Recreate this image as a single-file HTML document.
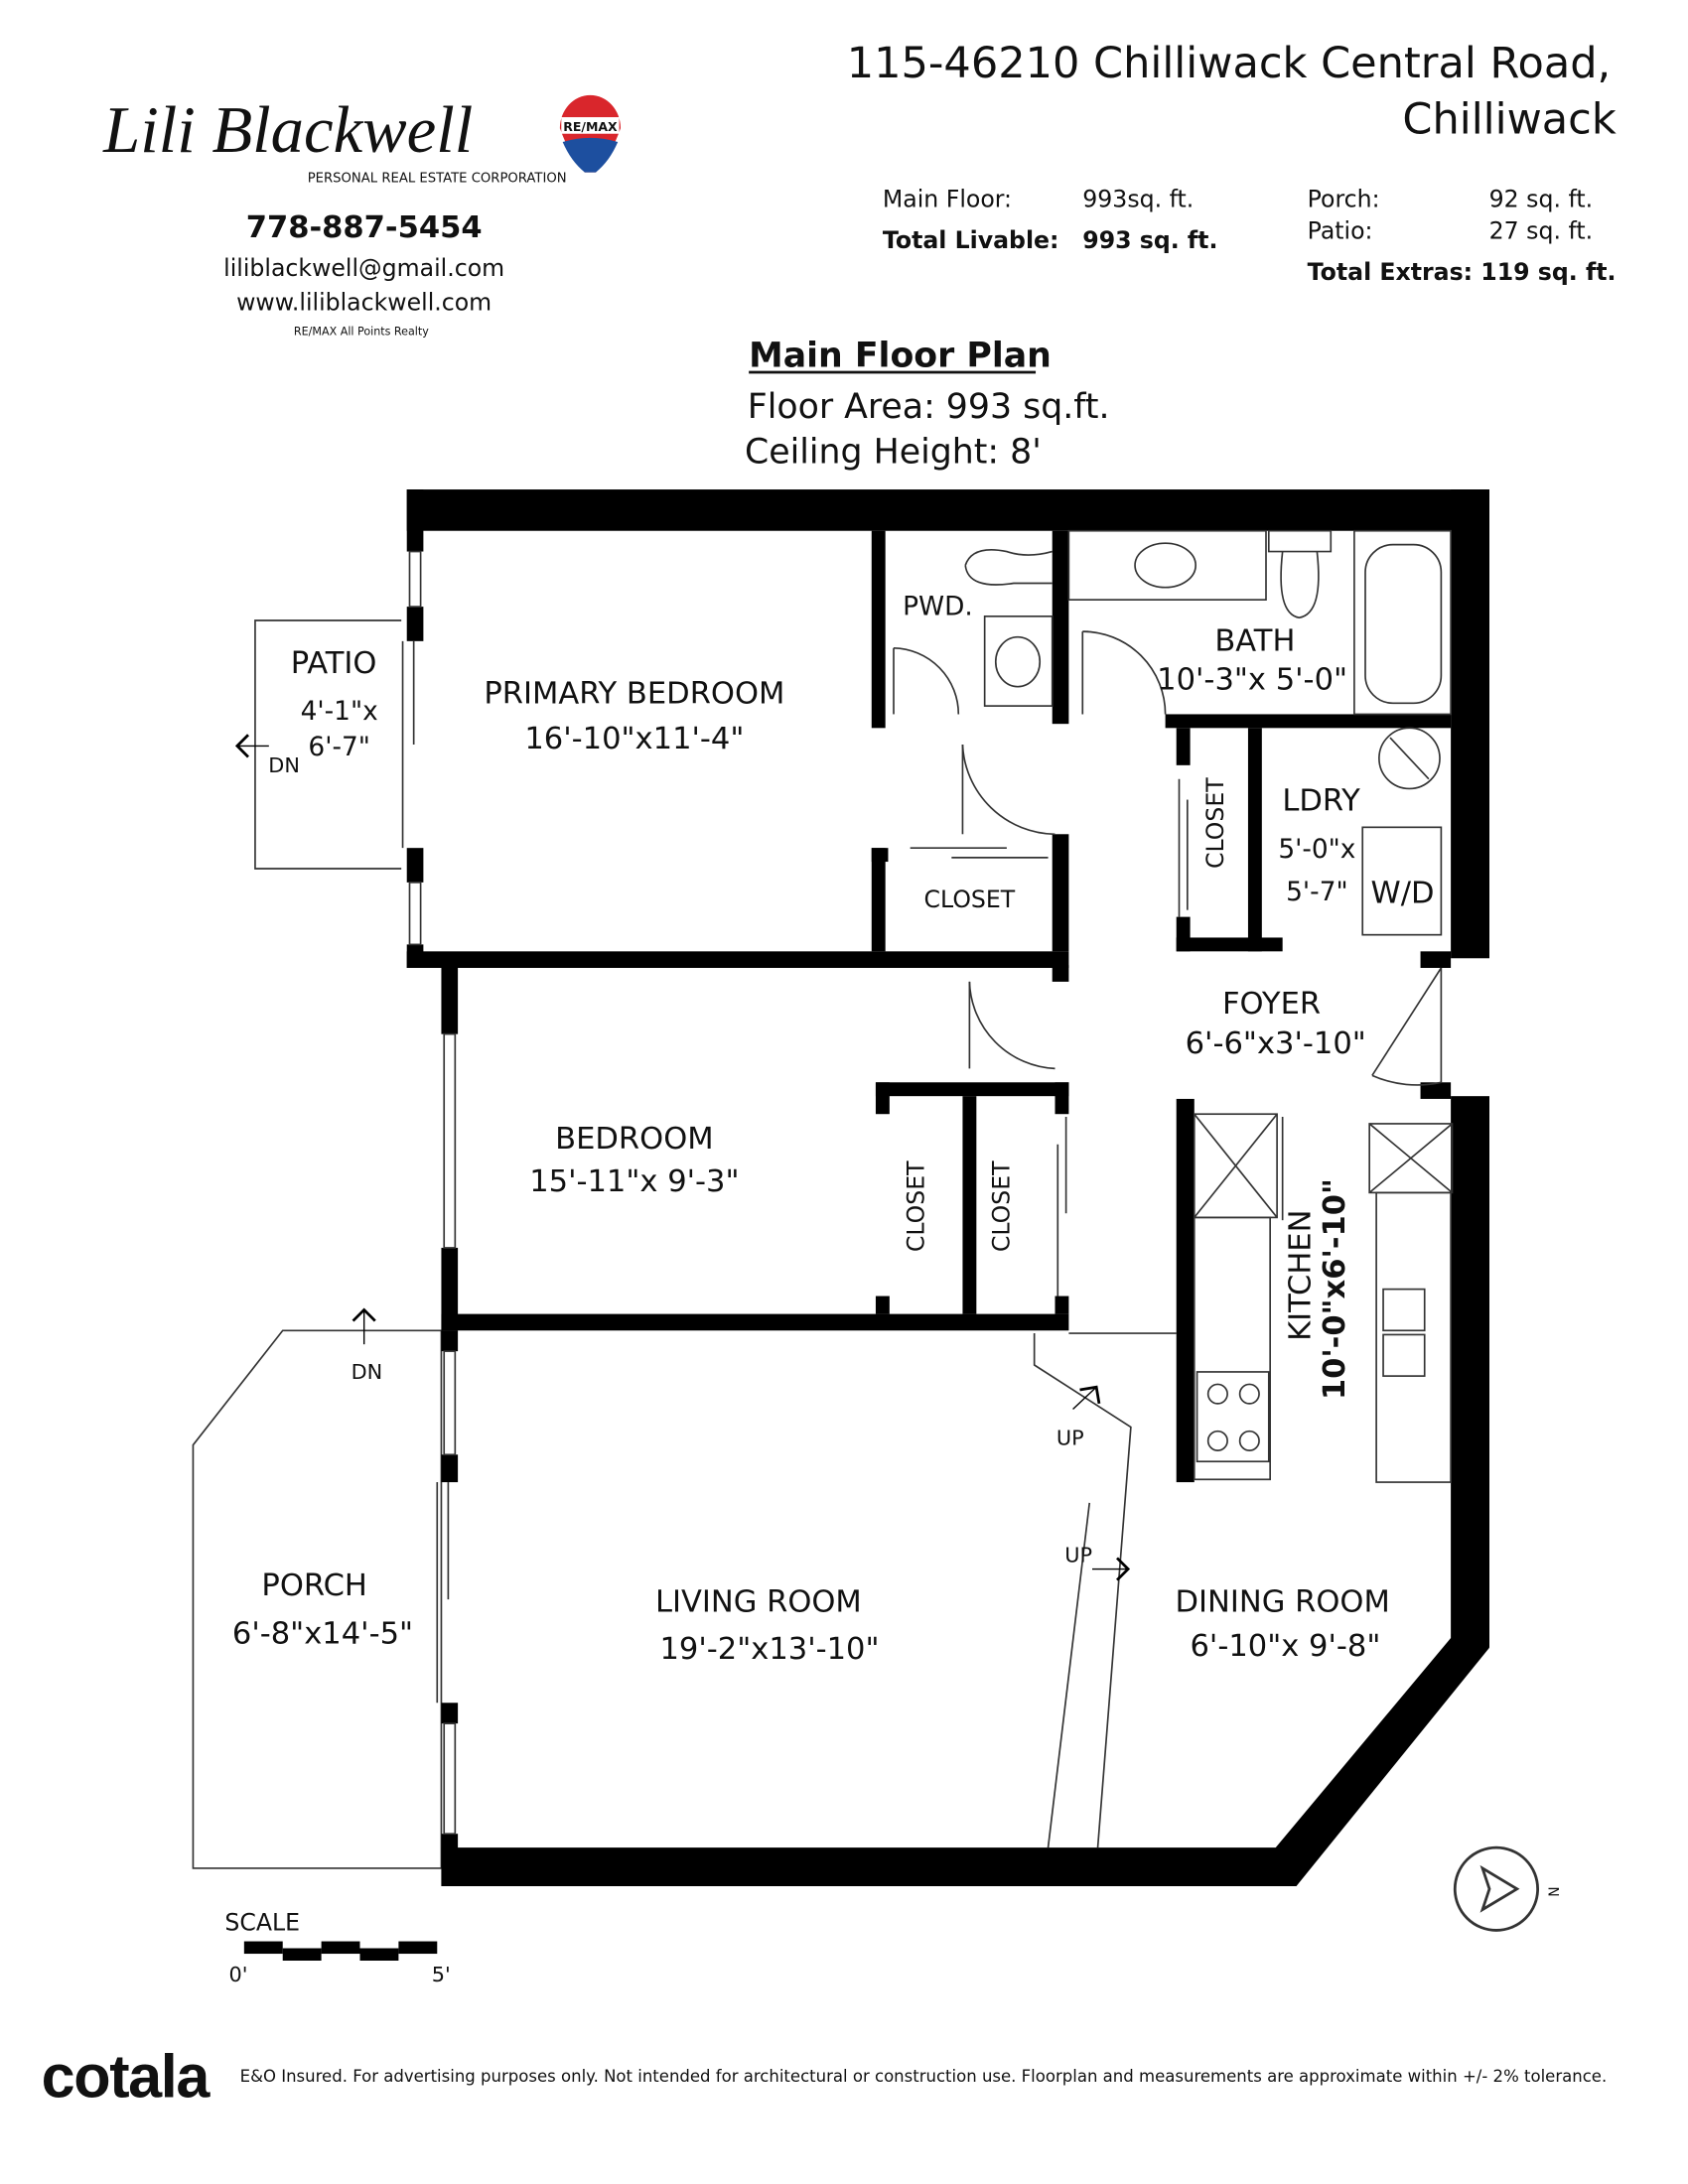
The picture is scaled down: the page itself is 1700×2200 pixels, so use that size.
<!DOCTYPE html>
<html><head><meta charset="utf-8"><style>
html,body{margin:0;padding:0;background:#fff}
svg{display:block}
text{font-family:"DejaVu Sans","Liberation Sans",sans-serif;fill:#111}
</style></head><body>
<svg width="1700" height="2200" viewBox="0 0 1224 1584" xmlns="http://www.w3.org/2000/svg">
<!-- header -->
<text x="75" y="110" font-family="Liberation Serif" font-style="italic" font-size="48" style="font-family:'Liberation Serif',serif">Lili Blackwell</text>
<text x="223" y="132" font-size="9.5">PERSONAL REAL ESTATE CORPORATION</text>
<g transform="translate(428,95)">
<path d="M-22,-2 A22,24 0 1 1 22,-2 Q15,18 4,30 L-4,30 Q-15,18 -22,-2Z" fill="#d9262c"/>
<path d="M-20,8 Q0,2 20,8 Q14,22 4,30 L-4,30 Q-14,22 -20,8Z" fill="#1d4f9f"/>
<rect x="-21" y="-10" width="42" height="12" fill="#fff"/>
<text x="0" y="0" font-size="9" text-anchor="middle" font-weight="bold" fill="#1d4f9f">RE/MAX</text>
</g>
<text x="264" y="172" font-size="22" font-weight="bold" text-anchor="middle">778-887-5454</text>
<text x="264" y="200" font-size="17" text-anchor="middle">liliblackwell@gmail.com</text>
<text x="264" y="225" font-size="17" text-anchor="middle">www.liliblackwell.com</text>
<text x="262" y="243" font-size="8" text-anchor="middle">RE/MAX All Points Realty</text>

<text x="1168" y="56" font-size="31" text-anchor="end">115-46210 Chilliwack Central Road,</text>
<text x="1172" y="97" font-size="31" text-anchor="end">Chilliwack</text>
<text x="640" y="150" font-size="17">Main Floor:</text>
<text x="785" y="150" font-size="17">993sq. ft.</text>
<text x="640" y="180" font-size="17" font-weight="bold">Total Livable:</text>
<text x="785" y="180" font-size="17" font-weight="bold">993 sq. ft.</text>
<text x="948" y="150" font-size="17">Porch:</text>
<text x="1155" y="150" font-size="17" text-anchor="end">92 sq. ft.</text>
<text x="948" y="173" font-size="17">Patio:</text>
<text x="1155" y="173" font-size="17" text-anchor="end">27 sq. ft.</text>
<text x="948" y="203" font-size="17" font-weight="bold">Total Extras: 119 sq. ft.</text>

<text x="543" y="266" font-size="25" font-weight="bold">Main Floor Plan</text>
<line x1="543" y1="270" x2="751" y2="270" stroke="#111" stroke-width="2"/>
<text x="542" y="303" font-size="25">Floor Area: 993 sq.ft.</text>
<text x="540" y="336" font-size="25">Ceiling Height: 8'</text>

<!-- outdoor areas -->
<g fill="none" stroke="#333" stroke-width="1.2">
<polyline points="291,450 185,450 185,630 291,630"/>
<polygon points="205,965 320,965 320,1355 140,1355 140,1048"/>
<polyline points="750,967 750,990 820,1035 796,1340"/>
<line x1="760" y1="1340" x2="790" y2="1090"/>
<line x1="775" y1="967" x2="853" y2="967"/>
</g>
<!-- walls -->
<g fill="#000">
<rect x="295" y="355" width="785" height="30"/>
<rect x="1052" y="355" width="28" height="340"/>
<rect x="1052" y="795" width="28" height="400"/>
<polygon points="1052,1188 1080,1195 940,1368 925,1340"/>
<rect x="320" y="1340" width="620" height="28"/>
<rect x="295" y="355" width="12" height="45"/>
<rect x="295" y="440" width="12" height="25"/>
<rect x="295" y="615" width="12" height="25"/>
<rect x="295" y="685" width="12" height="17"/>
<rect x="295" y="690" width="480" height="12"/>
<rect x="320" y="702" width="12" height="48"/>
<rect x="320" y="905" width="12" height="60"/>
<rect x="320" y="953" width="455" height="12"/>
<rect x="320" y="965" width="12" height="15"/>
<rect x="320" y="1055" width="12" height="20"/>
<rect x="320" y="1235" width="12" height="15"/>
<rect x="320" y="1330" width="12" height="38"/>
<rect x="632" y="385" width="10" height="143"/>
<rect x="763" y="385" width="12" height="140"/>
<rect x="763" y="605" width="12" height="85"/>
<rect x="632" y="615" width="10" height="75"/>
<rect x="632" y="615" width="12" height="10"/>
<rect x="763" y="700" width="12" height="12"/>
<rect x="845" y="518" width="207" height="10"/>
<rect x="853" y="528" width="10" height="27"/>
<rect x="853" y="665" width="10" height="25"/>
<rect x="853" y="680" width="77" height="10"/>
<rect x="905" y="528" width="10" height="162"/>
<rect x="635" y="785" width="140" height="10"/>
<rect x="635" y="785" width="10" height="23"/>
<rect x="635" y="940" width="10" height="13"/>
<rect x="698" y="795" width="10" height="158"/>
<rect x="765" y="785" width="10" height="23"/>
<rect x="765" y="940" width="10" height="13"/>
<rect x="853" y="797" width="13" height="278"/>
<rect x="1030" y="785" width="22" height="12"/>
<rect x="1030" y="690" width="22" height="12"/>
</g>
<!-- windows / doors -->
<g fill="none" stroke="#333" stroke-width="1.2">
<rect x="297" y="400" width="8" height="40"/>
<rect x="297" y="640" width="8" height="45"/>
<line x1="292" y1="465" x2="292" y2="615"/><line x1="300" y1="465" x2="300" y2="540"/>
<rect x="322" y="750" width="8" height="155"/>
<rect x="322" y="980" width="8" height="75"/>
<rect x="322" y="1250" width="8" height="80"/>
<line x1="317" y1="1075" x2="317" y2="1235"/><line x1="325" y1="1075" x2="325" y2="1160"/>
<path d="M698,540 A68,68 0 0 0 765,605"/><line x1="698" y1="540" x2="698" y2="605"/>
<path d="M703,712 A65,65 0 0 0 765,775"/><line x1="703" y1="712" x2="703" y2="775"/>
<path d="M785,458 A60,60 0 0 1 845,518"/><line x1="785" y1="458" x2="785" y2="518"/>
<path d="M648,470 A48,48 0 0 1 695,518"/><line x1="648" y1="470" x2="648" y2="518"/>
<line x1="1045" y1="702" x2="1045" y2="785"/><line x1="1045" y1="702" x2="995" y2="780"/>
<path d="M995,780 A80,80 0 0 0 1045,785"/>
<line x1="660" y1="615" x2="730" y2="615"/><line x1="690" y1="622" x2="760" y2="622"/>
<line x1="855" y1="565" x2="855" y2="665"/><line x1="861" y1="580" x2="861" y2="660"/>
<line x1="767" y1="830" x2="767" y2="940"/><line x1="773" y1="810" x2="773" y2="880"/>
<rect x="775" y="385" width="143" height="50"/>
<ellipse cx="845" cy="410" rx="22" ry="16"/>
<rect x="982" y="385" width="70" height="133"/>
<rect x="990" y="395" width="55" height="115" rx="20"/>
<path d="M920,385 h45 v15 h-45z M930,400 Q925,445 942,448 Q960,445 955,400"/>
<path d="M700,410 Q705,395 730,400 Q745,405 763,400 M700,410 Q702,428 735,423 L763,423"/>
<rect x="714" y="447" width="49" height="65"/><ellipse cx="738" cy="480" rx="16" ry="18"/>
<circle cx="1022" cy="550" r="22"/><line x1="1008" y1="535" x2="1036" y2="565"/>
<rect x="988" y="600" width="57" height="78"/>
<rect x="866" y="808" width="60" height="75"/><line x1="866" y1="808" x2="926" y2="883"/><line x1="926" y1="808" x2="866" y2="883"/>
<line x1="930" y1="810" x2="930" y2="885"/>
<rect x="866" y="883" width="55" height="190"/>
<rect x="868" y="995" width="52" height="65"/>
<circle cx="883" cy="1011" r="7"/><circle cx="906" cy="1011" r="7"/><circle cx="883" cy="1045" r="7"/><circle cx="906" cy="1045" r="7"/>
<rect x="993" y="815" width="60" height="50"/><line x1="993" y1="815" x2="1053" y2="865"/><line x1="1053" y1="815" x2="993" y2="865"/>
<rect x="998" y="865" width="54" height="210"/>
<rect x="1003" y="935" width="30" height="30"/><rect x="1003" y="968" width="30" height="30"/>
<circle cx="1085" cy="1370" r="30" stroke-width="2"/>
<polygon points="1075,1355 1100,1370 1075,1385 1080,1370" stroke-width="2"/>
</g>
<!-- arrows -->
<g fill="none" stroke="#000" stroke-width="2">
<path d="M180,533 L172,541 L180,549"/><line x1="172" y1="541" x2="195" y2="541" stroke-width="1"/>
<path d="M256,958 L264,950 L272,958"/><line x1="264" y1="950" x2="264" y2="975" stroke-width="1"/>
<path d="M783,1008 L795,1006 L797,1018"/><line x1="778" y1="1022" x2="795" y2="1006" stroke-width="1"/>
<path d="M810,1130 L818,1138 L810,1146"/><line x1="792" y1="1138" x2="818" y2="1138" stroke-width="1"/>
</g>
<!-- labels -->
<g font-size="22" text-anchor="middle">
<text x="242" y="488">PATIO</text>
<text x="246" y="522" font-size="19">4'-1"x</text>
<text x="246" y="548" font-size="19">6'-7"</text>
<text x="206" y="560" font-size="15">DN</text>
<text x="460" y="510">PRIMARY BEDROOM</text>
<text x="460" y="543">16'-10"x11'-4"</text>
<text x="680" y="446" font-size="19">PWD.</text>
<text x="910" y="472">BATH</text>
<text x="908" y="500">10'-3"x 5'-0"</text>
<text x="703" y="658" font-size="17">CLOSET</text>
<text x="958" y="588">LDRY</text>
<text x="955" y="622" font-size="19">5'-0"x</text>
<text x="955" y="653" font-size="19">5'-7"</text>
<text x="1017" y="655">W/D</text>
<text x="922" y="735">FOYER</text>
<text x="925" y="764">6'-6"x3'-10"</text>
<text x="460" y="833">BEDROOM</text>
<text x="460" y="864">15'-11"x 9'-3"</text>
<text x="266" y="1000" font-size="15">DN</text>
<text x="776" y="1048" font-size="15">UP</text>
<text x="782" y="1133" font-size="15">UP</text>
<text x="228" y="1157">PORCH</text>
<text x="234" y="1192">6'-8"x14'-5"</text>
<text x="550" y="1169">LIVING ROOM</text>
<text x="558" y="1203">19'-2"x13'-10"</text>
<text x="930" y="1169">DINING ROOM</text>
<text x="932" y="1201">6'-10"x 9'-8"</text>
<text x="896" y="606" font-size="17" transform="rotate(-90 887 606)">CLOSET</text>
<text x="670" y="875" font-size="17" transform="rotate(-90 670 875)">CLOSET</text>
<text x="732" y="875" font-size="17" transform="rotate(-90 732 875)">CLOSET</text>
<text x="950" y="925" transform="rotate(-90 950 925)">KITCHEN</text>
<text x="975" y="935" font-weight="bold" transform="rotate(-90 975 935)">10'-0"x6'-10"</text>
<text x="1123" y="1372" font-size="10" transform="rotate(90 1123 1372)">N</text>
</g>
<!-- scale -->
<text x="163" y="1400" font-size="17">SCALE</text>
<g fill="#000">
<rect x="177" y="1408" width="28" height="9"/><rect x="205" y="1413" width="28" height="9"/>
<rect x="233" y="1408" width="28" height="9"/><rect x="261" y="1413" width="28" height="9"/><rect x="289" y="1408" width="28" height="9"/>
</g>
<text x="166" y="1437" font-size="15">0'</text>
<text x="313" y="1437" font-size="15">5'</text>
<!-- footer -->
<text x="30" y="1521" font-size="44" font-weight="bold" style="font-family:'Liberation Sans',sans-serif" letter-spacing="-1">cotala</text>
<text x="174" y="1510" font-size="11.9">E&amp;O Insured. For advertising purposes only. Not intended for architectural or construction use. Floorplan and measurements are approximate within +/- 2% tolerance.</text>
</svg>
</body></html>
